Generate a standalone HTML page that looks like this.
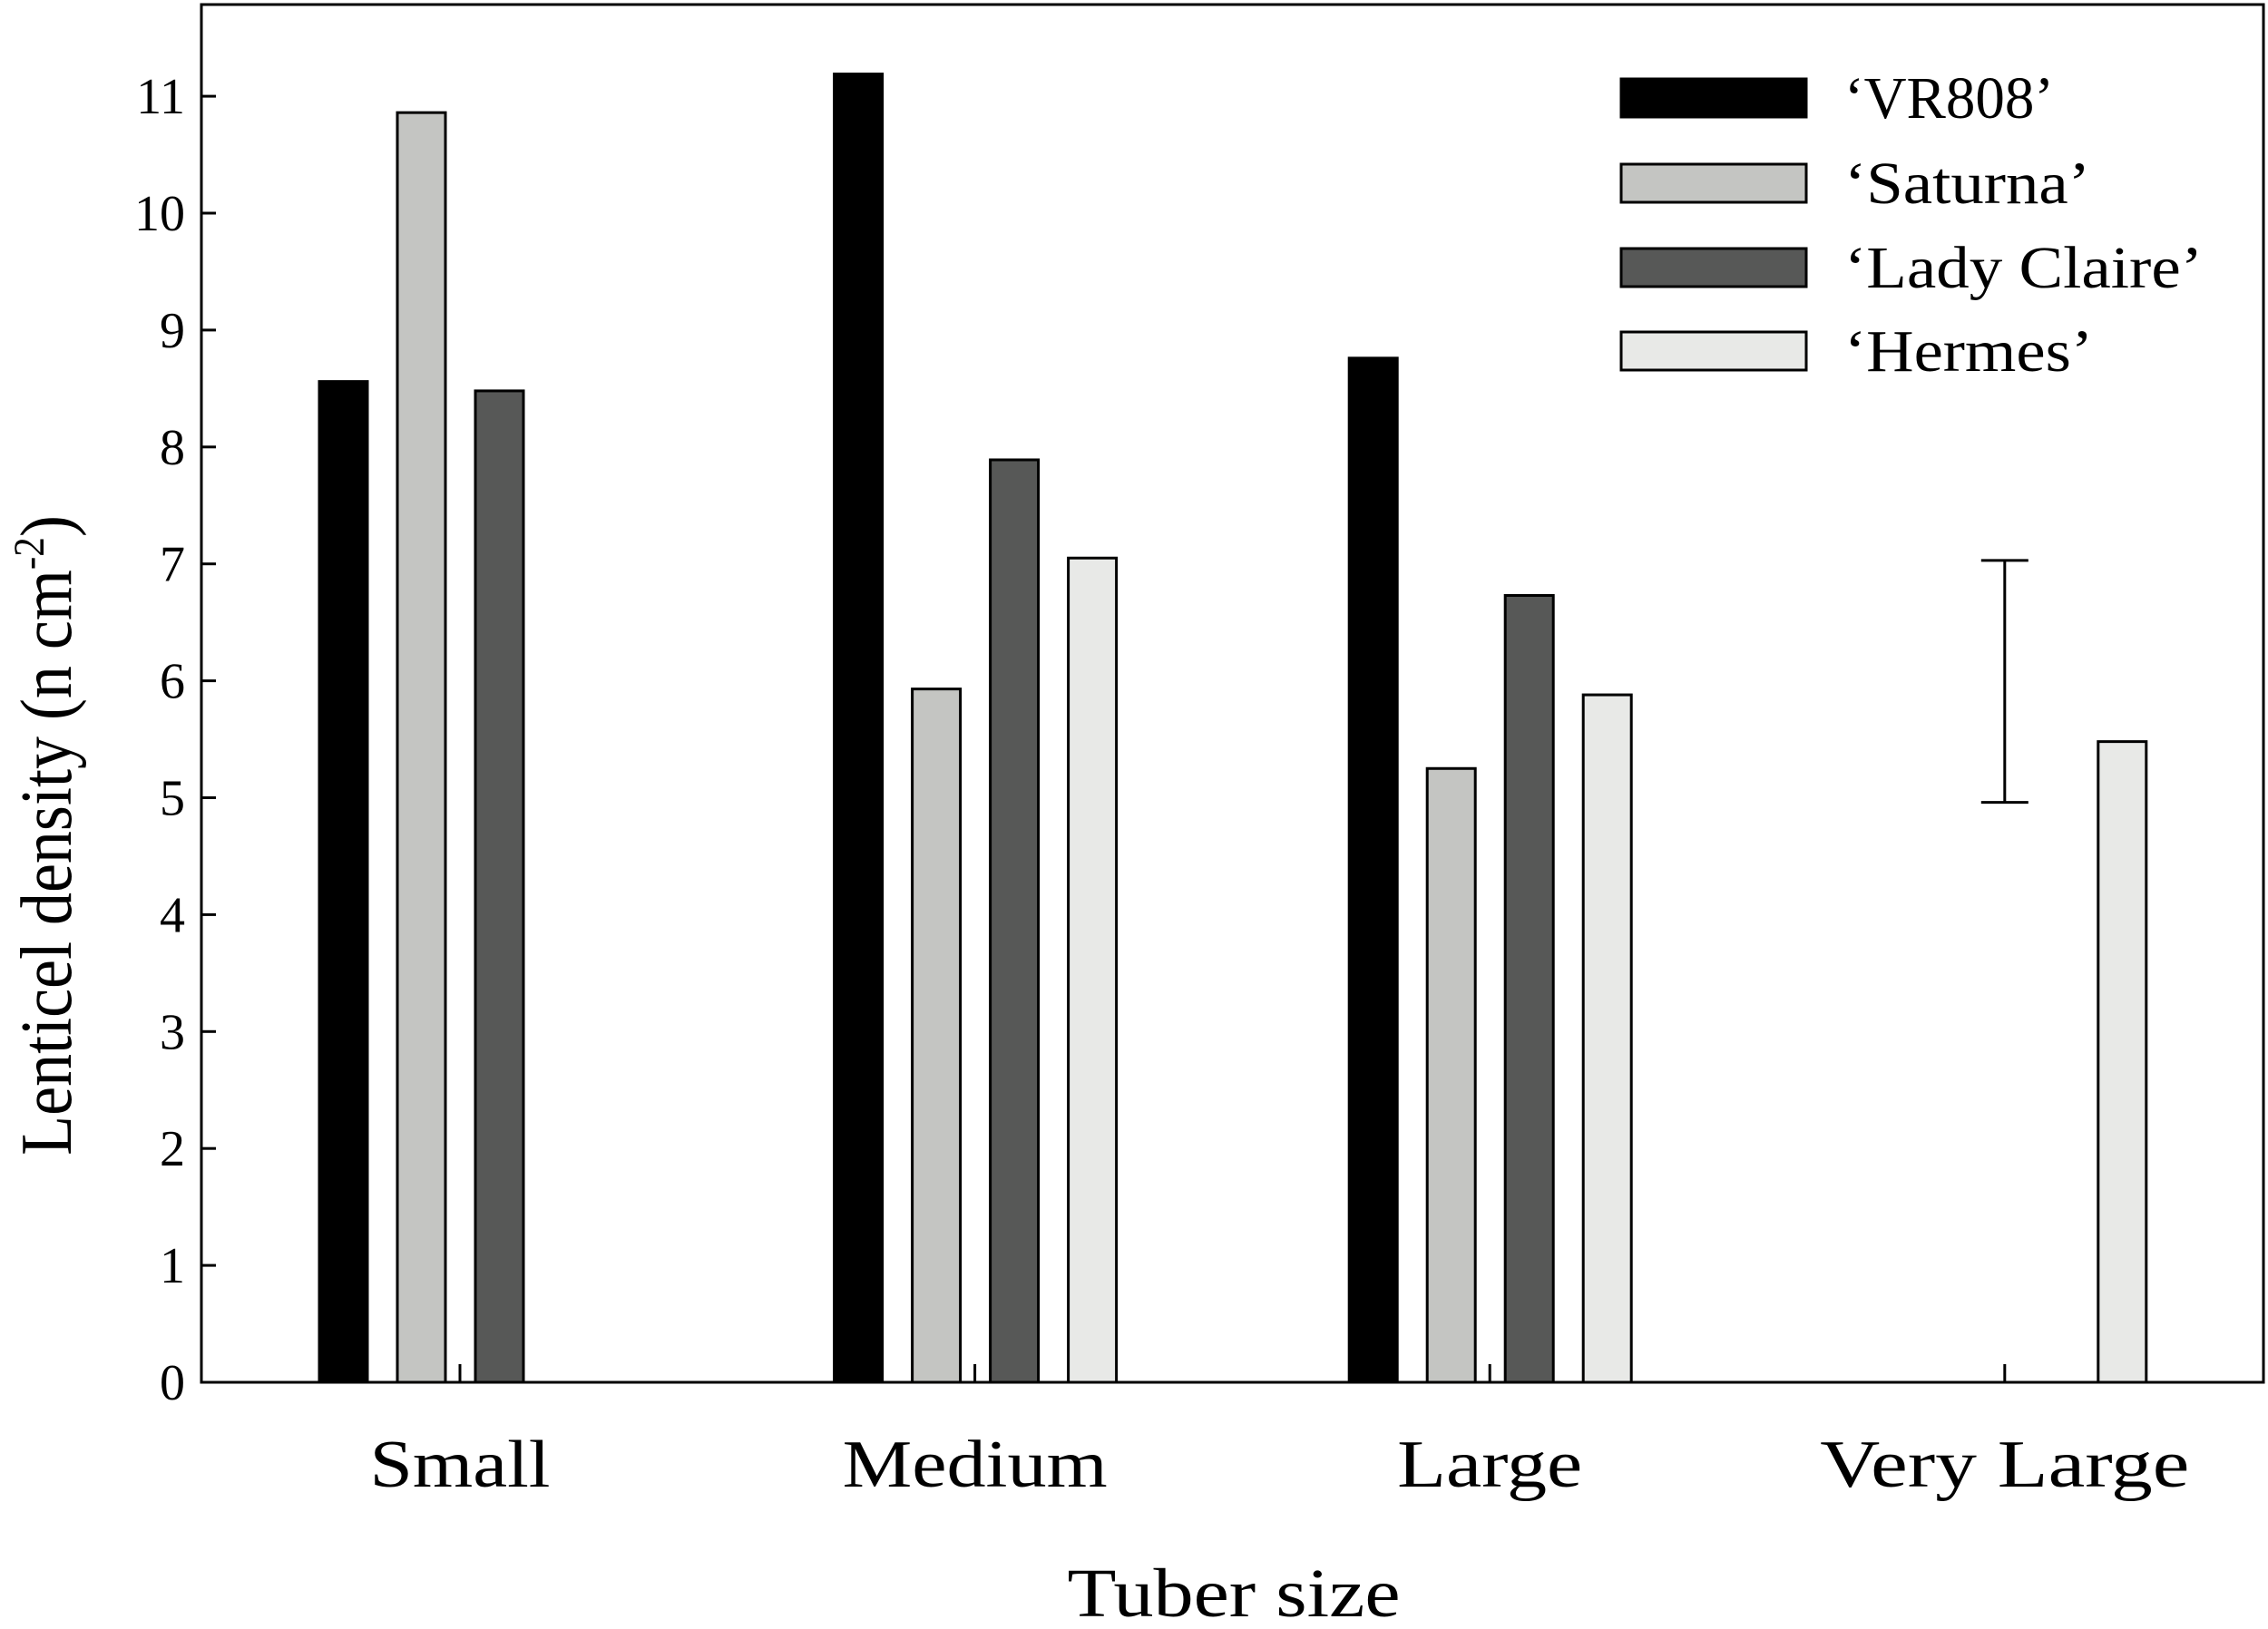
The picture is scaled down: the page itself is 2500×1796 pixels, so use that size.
<!DOCTYPE html>
<html><head><meta charset="utf-8"><style>
html,body{margin:0;padding:0;background:#fff}
svg{display:block}
text{font-family:"Liberation Serif",serif;fill:#000}
</style></head><body>
<svg id="chart" width="2500" height="1796" viewBox="0 0 2500 1796">
<g id="bars"></g>
<g id="axes"></g>
<g id="legend"></g>
</svg>
<script>
const categories = ["Small","Medium","Large","Very Large"];
const seriesNames = ["\u2018VR808\u2019","\u2018Saturna\u2019","\u2018Lady Claire\u2019","\u2018Hermes\u2019"];
const vr808 = [8.56, 11.19, 8.76, null];
const saturna = [10.86, 5.93, 5.25, null];
const ladyClaire = [8.48, 7.89, 6.73, null];
const hermes = [null, 7.05, 5.88, 5.48];
const yTicks = [0,1,2,3,4,5,6,7,8,9,10,11];
const errorBar = [4.96, 7.03];

const fills = ["#000000","#c4c5c2","#575857","#e8e9e7"];
const series = [vr808, saturna, ladyClaire, hermes];
const catLen = [199, 292, 204, 407];
const legLen = [231, 271, 395, 274];
const L=222, R=2495, T=5, B=1524, unit=128.9;
const y = v => B - v*unit;
const xc = i => 507 + i*567.6;
const NS="http://www.w3.org/2000/svg";
function mk(parent, tag, attrs){const e=document.createElementNS(NS,tag);for(const k in attrs)e.setAttribute(k,attrs[k]);parent.appendChild(e);return e;}
const gb=document.getElementById('bars'), ga=document.getElementById('axes'), gl=document.getElementById('legend');
const slugs=["vr808","saturna","lady-claire","hermes"];
series.forEach((s,si)=>{
  s.forEach((v,ci)=>{
    if(v==null) return;
    const x = xc(ci) - 155 + si*86;
    const r = mk(gb,'rect',{x:x,y:y(v),width:53,height:B-y(v),fill:fills[si],stroke:"#000","stroke-width":3});
    
    
  });
});
const ex = xc(3);
const eb = mk(ga,'path',{d:`M${ex-26},${y(errorBar[1])}H${ex+26}M${ex},${y(errorBar[1])}V${y(errorBar[0])}M${ex-26},${y(errorBar[0])}H${ex+26}`,stroke:"#000","stroke-width":3,fill:"none"});


const fr = mk(ga,'rect',{x:L,y:T,width:R-L,height:B-T,fill:"none",stroke:"#000","stroke-width":3});


yTicks.forEach(t=>{
  const ln = mk(ga,'line',{x1:L,x2:L+16,y1:y(t),y2:y(t),stroke:"#000","stroke-width":3});
  
  
  const tx = mk(ga,'text',{x:204,y:y(t)+19,"text-anchor":"end","font-size":56});
  tx.textContent=t;
  
  
});
categories.forEach((c,i)=>{
  const ln = mk(ga,'line',{x1:xc(i),x2:xc(i),y1:B,y2:B-20,stroke:"#000","stroke-width":3});
  
  
  const tx = mk(ga,'text',{x:xc(i),y:1639,"text-anchor":"middle","font-size":74,textLength:catLen[i],lengthAdjust:"spacingAndGlyphs"});
  tx.textContent=c;
  
  
});
const xt = mk(ga,'text',{x:1360,y:1782,"text-anchor":"middle","font-size":76,textLength:367,lengthAdjust:"spacingAndGlyphs"});
xt.textContent="Tuber size";


const yt = mk(ga,'text',{x:0,y:0,"text-anchor":"middle","font-size":80,transform:"translate(78,921) rotate(-90) scale(0.9,1)"});
yt.innerHTML='Lenticel density (n cm<tspan dy="-30" font-size="48">-2</tspan><tspan dy="30">)</tspan>';


const ly=[108,202,295,387];
seriesNames.forEach((n,i)=>{
  const r = mk(gl,'rect',{x:1787,y:ly[i]-21,width:204,height:42,fill:fills[i],stroke:"#000","stroke-width":3});
  
  
  const tx = mk(gl,'text',{x:2033,y:ly[i]+22,"font-size":66,textLength:legLen[i],lengthAdjust:"spacingAndGlyphs"});
  tx.textContent=n;
  
  
});
</script>
</body></html>
